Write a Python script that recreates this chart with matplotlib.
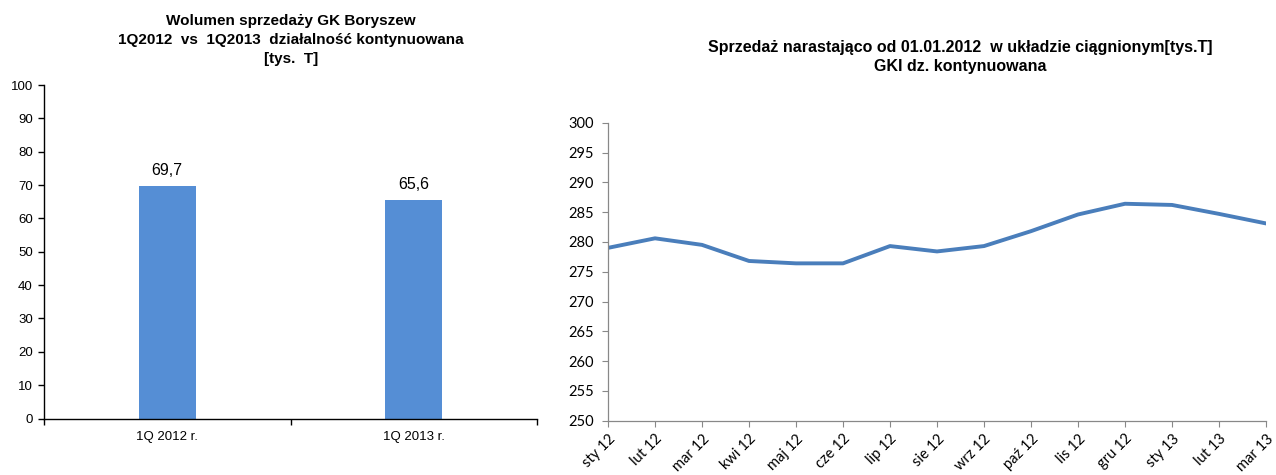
import matplotlib
matplotlib.use("Agg")
import matplotlib.pyplot as plt

# Data
bar_categories = ["1Q 2012 r.", "1Q 2013 r."]
bar_values = [69.7, 65.6]
bar_labels = ["69,7", "65,6"]

months = ["sty 12", "lut 12", "mar 12", "kwi 12", "maj 12", "cze 12", "lip 12",
          "sie 12", "wrz 12", "paź 12", "lis 12", "gru 12", "sty 13", "lut 13", "mar 13"]
sales = [279.0, 280.6, 279.5, 276.8, 276.4, 276.4, 279.3, 278.4, 279.3,
         281.8, 284.6, 286.4, 286.2, 284.7, 283.1]

W, H = 1276, 475
fig = plt.figure(figsize=(W / 100, H / 100), dpi=100)

def ax_rect(x0, y0, x1, y1):
    return [x0 / W, 1 - y1 / H, (x1 - x0) / W, (y1 - y0) / H]

arial = "Liberation Sans"
calib = ["Lato", "DejaVu Sans"]

# Left chart
ax1 = fig.add_axes(ax_rect(44, 85, 537, 418.5))
xs = [0.5, 1.5]
ax1.bar(xs, bar_values, width=0.23, color="#558ED5")
ax1.set_xlim(0, 2)
ax1.set_ylim(0, 100)
ax1.set_yticks(range(0, 101, 10))
ax1.set_xticks([0, 1, 2])
ax1.set_xticklabels([])
ax1.set_xticks(xs, minor=True)
ax1.set_xticklabels(bar_categories, minor=True, fontfamily=arial, fontsize=9.5)
ax1.tick_params(axis="x", which="minor", length=0, pad=9)
ax1.tick_params(axis="x", which="major", direction="out", length=4, width=1)
ax1.tick_params(axis="y", direction="out", length=4, width=1, pad=4)
for lbl in ax1.get_yticklabels():
    lbl.set_fontfamily(arial)
    lbl.set_fontsize(9.5)
for s in ["top", "right"]:
    ax1.spines[s].set_visible(False)
for s in ["left", "bottom"]:
    ax1.spines[s].set_color("black")
    ax1.spines[s].set_linewidth(1)
for x, v, t in zip(xs, bar_values, bar_labels):
    ax1.text(x, v + 2.4, t, ha="center", va="bottom", fontfamily=arial, fontsize=11.5)
fig.text(291 / W, 1 - 40 / H,
         "Wolumen sprzedaży GK Boryszew\n1Q2012  vs  1Q2013  działalność kontynuowana\n[tys.  T]",
         ha="center", va="center", fontfamily=arial, fontweight="bold", fontsize=11,
         linespacing=1.45)

# Right chart
ax2 = fig.add_axes(ax_rect(608, 122.7, 1266, 420.7))
x2 = list(range(len(months)))
ax2.plot(x2, sales, color="#4A7EBB", linewidth=2.8, solid_joinstyle="round")
ax2.set_xlim(0, len(months) - 1)
ax2.set_ylim(250, 300)
ax2.set_yticks(range(250, 301, 5))
ax2.set_xticks(x2)
ax2.set_xticklabels(months, rotation=45, ha="right", va="top", rotation_mode="anchor",
                    fontfamily=calib, fontsize=10.5)
for lbl in ax2.get_yticklabels():
    lbl.set_fontfamily(calib)
    lbl.set_fontsize(10.5)
ax2.tick_params(axis="x", direction="out", length=4, color="#888888", pad=4)
ax2.tick_params(axis="y", direction="out", length=4, color="#888888", pad=6)
for s in ["top", "right"]:
    ax2.spines[s].set_visible(False)
for s in ["left", "bottom"]:
    ax2.spines[s].set_color("#888888")
    ax2.spines[s].set_linewidth(0.9)
fig.text(960 / W, 1 - 57 / H,
         "Sprzedaż narastająco od 01.01.2012  w układzie ciągnionym[tys.T]\nGKI dz. kontynuowana",
         ha="center", va="center", fontfamily=arial, fontweight="bold", fontsize=11.5,
         linespacing=1.4)

fig.savefig("out.png", dpi=100)
